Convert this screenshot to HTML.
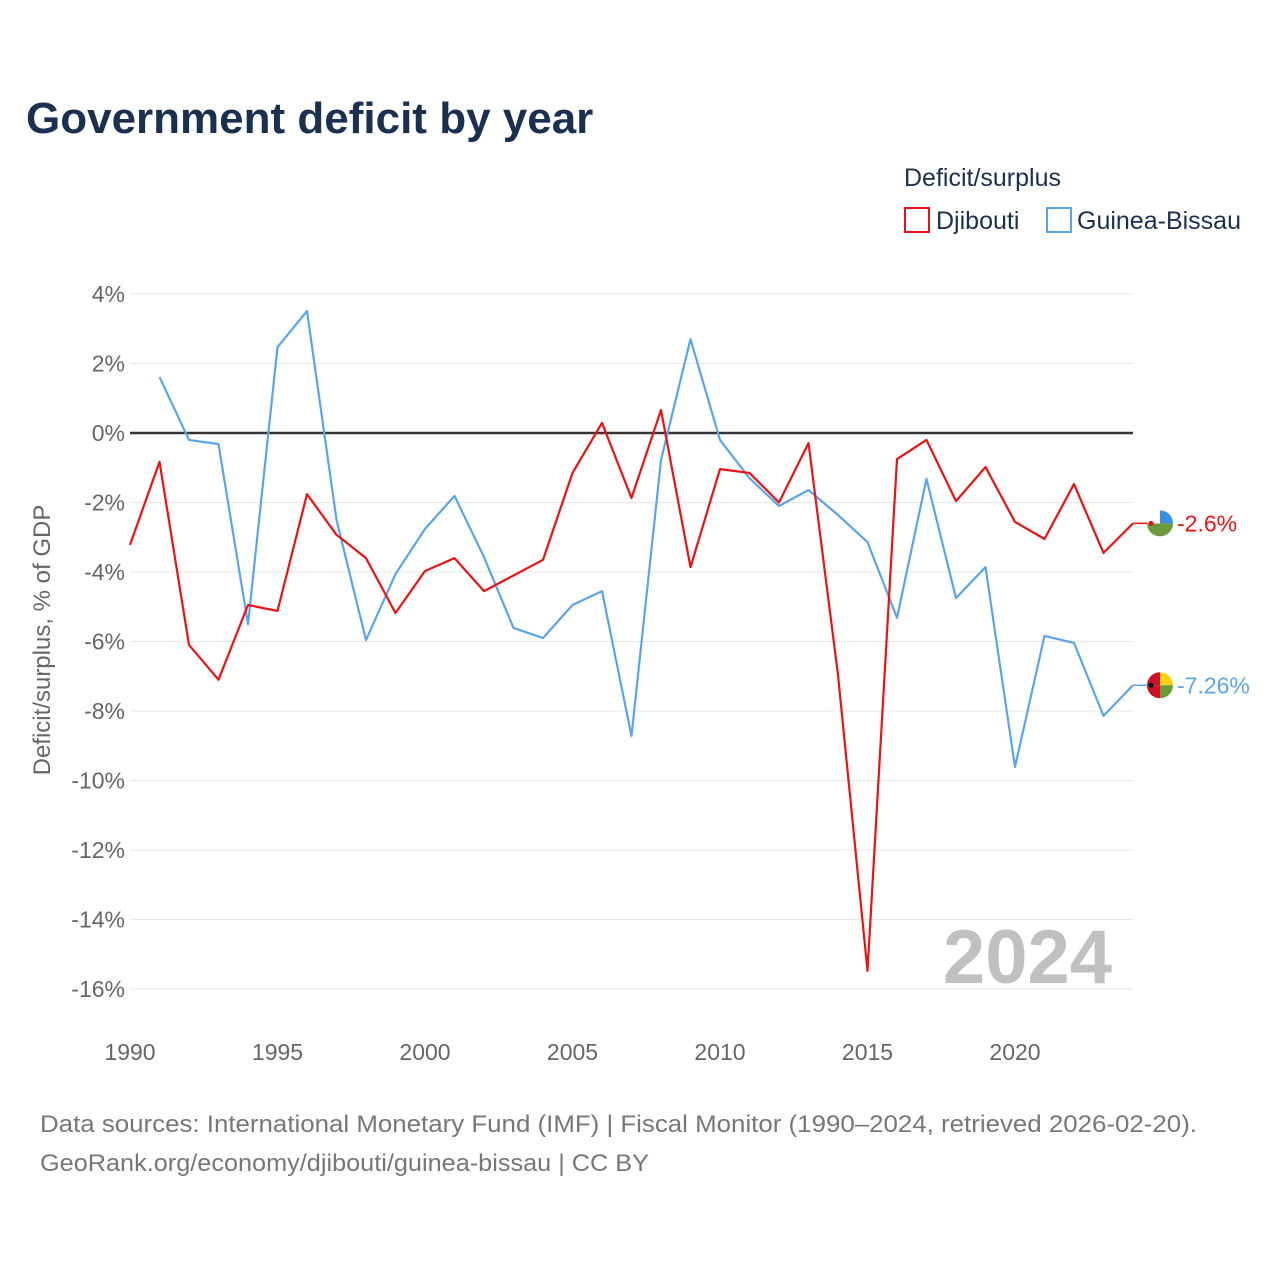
<!DOCTYPE html>
<html><head><meta charset="utf-8">
<style>
body{margin:0;background:#fff;font-family:"Liberation Sans",sans-serif;}
svg text{font-family:"Liberation Sans",sans-serif;}
</style></head>
<body>
<svg id="chart" width="1280" height="1280" xmlns="http://www.w3.org/2000/svg">
<text x="26" y="133" font-size="44" font-weight="bold" fill="#1a3050">Government deficit by year</text>
<text x="904" y="186" font-size="25" fill="#1a3050">Deficit/surplus</text>
<g><rect x="905" y="208" width="24" height="24" fill="none" stroke="#ee1111" stroke-width="2"/><text x="936" y="229" font-size="25" fill="#1a3050">Djibouti</text></g>
<g><rect x="1047" y="208" width="24" height="24" fill="none" stroke="#5aa5ea" stroke-width="2"/><text x="1077" y="229" font-size="25" fill="#1a3050">Guinea-Bissau</text></g>
<g id="grid"></g>
<g id="xticks"></g>
<text transform="translate(50,640) rotate(-90)" text-anchor="middle" font-size="24" fill="#666">Deficit/surplus, % of GDP</text>
<text x="1112" y="983" text-anchor="end" font-size="76" font-weight="bold" fill="#c0c0c0">2024</text>
<g id="series"></g>
<text x="40" y="1132" font-size="24" fill="#777" textLength="1157" lengthAdjust="spacingAndGlyphs">Data sources: International Monetary Fund (IMF) | Fiscal Monitor (1990–2024, retrieved 2026-02-20).</text>
<text x="40" y="1171" font-size="24" fill="#777" textLength="609" lengthAdjust="spacingAndGlyphs">GeoRank.org/economy/djibouti/guinea-bissau | CC BY</text>
</svg>
<script>
const years=[1990,1991,1992,1993,1994,1995,1996,1997,1998,1999,2000,2001,2002,2003,2004,2005,2006,2007,2008,2009,2010,2011,2012,2013,2014,2015,2016,2017,2018,2019,2020,2021,2022,2023,2024];
const djibouti=[-3.22,-0.83,-6.1,-7.1,-4.95,-5.12,-1.76,-2.93,-3.6,-5.18,-3.97,-3.6,-4.55,-4.1,-3.65,-1.15,0.29,-1.87,0.66,-3.86,-1.04,-1.15,-2.0,-0.29,-6.96,-15.48,-0.75,-0.2,-1.96,-0.98,-2.56,-3.05,-1.47,-3.45,-2.6];
const guinea=[null,1.61,-0.2,-0.32,-5.5,2.47,3.51,-2.5,-5.96,-4.06,-2.76,-1.81,-3.57,-5.61,-5.9,-4.95,-4.55,-8.72,-0.78,2.7,-0.2,-1.3,-2.1,-1.64,-2.36,-3.14,-5.32,-1.32,-4.75,-3.86,-9.61,-5.84,-6.04,-8.14,-7.26];
const yTicks=[4,2,0,-2,-4,-6,-8,-10,-12,-14,-16];
const xTicks=[1990,1995,2000,2005,2010,2015,2020];
const NS="http://www.w3.org/2000/svg";
const x=v=>130+(v-1990)*29.5;
const y=v=>433-v*34.75;
function mk(tag,attrs,parent){const e=document.createElementNS(NS,tag);for(const k in attrs)e.setAttribute(k,attrs[k]);parent.appendChild(e);return e;}
const grid=document.getElementById('grid');
yTicks.forEach(t=>{
  const l=mk('line',{x1:130,x2:1133,y1:y(t),y2:y(t),stroke:t===0?'#333':'#e6e6e6','stroke-width':t===0?2.5:1},grid);
  
  
  const tx=mk('text',{x:125,y:y(t)+8,'text-anchor':'end','font-size':23,fill:'#666'},grid);
  tx.textContent=t+'%';
  
  
});
const xt=document.getElementById('xticks');
xTicks.forEach(t=>{
  const tx=mk('text',{x:x(t),y:1060,'text-anchor':'middle','font-size':23,fill:'#666'},xt);
  tx.textContent=t;
  
  
});
const s=document.getElementById('series');
function line(vals,color,name){
  let d='';vals.forEach((v,i)=>{if(v===null)return;d+=(d?'L':'M')+x(years[i])+','+y(v);});
  const p=mk('path',{d:d,fill:'none',stroke:color,'stroke-width':2.2,'stroke-linejoin':'round'},s);
  
  
}
line(guinea,'#5aa5ea','guinea-bissau-line');
line(djibouti,'#ee1111','djibouti-line');
function endLabel(v,color,name,colors){
  const cy=y(v),cx=1160;
  const g=mk('g',{},s);
  
  
  mk('line',{x1:x(2024),x2:cx-13,y1:cy,y2:cy,stroke:color,'stroke-width':1.5},g);
  mk('path',{d:`M${cx},${cy}L${cx+13},${cy}A13,13 0 0 0 ${cx},${cy-13}Z`,fill:colors[0]},g);
  mk('path',{d:`M${cx},${cy}L${cx-13},${cy}A13,13 0 0 0 ${cx},${cy+13}Z`,fill:colors[1]},g);
  mk('path',{d:`M${cx},${cy}L${cx},${cy+13}A13,13 0 0 0 ${cx+13},${cy}Z`,fill:colors[2]},g);
  mk('path',{d:`M${cx},${cy}L${cx},${cy-13}A13,13 0 0 0 ${cx-13},${cy}Z`,fill:colors[3]},g);
  mk('circle',{cx:cx-9,cy:cy,r:2.5,fill:colors[4]},g);
  const t=mk('text',{x:cx+17,y:cy+8,'font-size':23,fill:color},g);
  t.textContent=v+'%';
}
endLabel(djibouti[34],'#ee1111','djibouti-end-label',['#3a8ee6','#6a9a3a','#6a9a3a','#ffffff','#d7141a']);
endLabel(guinea[34],'#5aa5ea','guinea-bissau-end-label',['#fcd116','#ce1126','#6a9a3a','#ce1126','#000000']);
</script>
</body></html>
